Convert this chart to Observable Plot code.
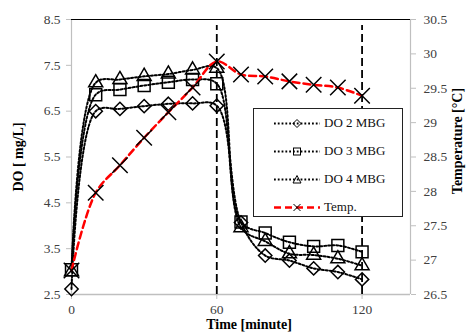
<!DOCTYPE html>
<html>
<head>
<meta charset="utf-8">
<script src="https://cdn.jsdelivr.net/npm/d3@7"></script>
<script src="https://cdn.jsdelivr.net/npm/@observablehq/plot@0.6"></script>
<style>
  html, body { margin: 0; padding: 0; background: #fff; }
  #wrap { position: relative; width: 468px; height: 332px; font-family: "Liberation Serif", serif; }
  #wrap svg { display: block; }
  #wrap svg text { font-family: "Liberation Serif", serif; }
  g[aria-label="y-axis label"] text { font-weight: bold; fill: #000; font-size: 14px; }
  #legend { position: absolute; left: 253px; top: 108px; width: 150px; height: 109px; border: 1px solid #222; background: #fff; box-sizing: border-box; }
  .row { position: absolute; left: 0; height: 20px; display: flex; align-items: center; font-size: 13px; color: #111; }
  .row svg { margin-left: 20px; margin-right: 2px; }
</style>
</head>
<body>
<div id="wrap"><div id="legend"></div></div>
<script>
const time = [0, 10, 20, 30, 40, 50, 60, 70, 80, 90, 100, 110, 120];
const do2 = [2.62, 6.50, 6.55, 6.61, 6.66, 6.67, 6.62, 4.07, 3.35, 3.24, 3.07, 2.99, 2.83];
const do3 = [3.04, 6.86, 6.97, 7.06, 7.13, 7.19, 7.10, 4.08, 3.84, 3.64, 3.55, 3.57, 3.43];
const do4 = [3.00, 7.12, 7.19, 7.26, 7.31, 7.40, 7.44, 3.96, 3.66, 3.39, 3.36, 3.28, 3.13];
const temp = [26.85, 27.98, 28.38, 28.78, 29.15, 29.51, 29.89, 29.70, 29.67, 29.60, 29.55, 29.51, 29.39];
const doTicks = [2.5, 3.5, 4.5, 5.5, 6.5, 7.5, 8.5];
const tempTicks = [26.5, 27, 27.5, 28, 28.5, 29, 29.5, 30, 30.5];
const timeTicks = [0, 60, 120];
const markerLines = [60, 120];
const seriesNames = ["DO 2 MBG", "DO 3 MBG", "DO 4 MBG", "Temp."];
const xTitle = "Time [minute]";
const yTitle = "DO [ mg/L]";
const y2Title = "Temperature [°C]";

// map temperature onto the DO scale (26.5..30.5 -> 2.5..8.5)
const toDO = t => 2.5 + (t - 26.5) * 1.5;
const fromDO = d => 26.5 + (d - 2.5) / 1.5;

const mk = vals => time.map((t, i) => ({t, v: vals[i]}));
const d2 = mk(do2), d3s = mk(do3), d4 = mk(do4), tp = mk(temp.map(toDO));

const dotted = {x: "t", y: "v", curve: "catmull-rom", stroke: "#000", strokeWidth: 2, strokeDasharray: "2,2"};
const gray = "#bfbfbf";
const titleStyle = {fill: "#000", fontWeight: "bold", fontSize: 14, fontFamily: "Liberation Serif, serif", textAnchor: "middle", lineAnchor: "middle"};

const chart = Plot.plot({
  width: 468, height: 332,
  marginLeft: 71, marginRight: 58, marginTop: 19, marginBottom: 38,
  style: {fontFamily: "Liberation Serif, serif", fontSize: "13.5px", color: "#404040", background: "#fff"},
  x: {domain: [0, 140]},
  y: {domain: [2.5, 8.5]},
  marks: [
    Plot.ruleX([0], {stroke: gray, strokeWidth: 1.2}),
    Plot.ruleX([140], {stroke: gray, strokeWidth: 1.2}),
    Plot.ruleY([2.5], {stroke: gray, strokeWidth: 1.5}),
    Plot.ruleY([8.5], {stroke: "#000", strokeWidth: 1}),
    Plot.ruleX(markerLines, {stroke: "#000", strokeWidth: 1.8, strokeDasharray: "8,4", y1: 2.5, y2: 8.5, insetBottom: -6}),
    Plot.axisY({anchor: "left", ticks: doTicks, tickFormat: d => d.toFixed(1), tickSize: 5, tickPadding: 6, stroke: gray,
      label: yTitle, labelAnchor: "center", labelOffset: 58, labelArrow: "none"}),
    Plot.axisY({anchor: "right", ticks: tempTicks.map(toDO), tickFormat: d => String(+fromDO(d).toFixed(1)), tickSize: 5, tickPadding: 8, stroke: gray,
      label: null}),
    Plot.axisX({ticks: timeTicks, tickSize: 5, tickPadding: 5, stroke: gray, label: null}),
    Plot.text([xTitle], {frameAnchor: "bottom", dx: 8, dy: 30, ...titleStyle}),
    Plot.text([y2Title], {frameAnchor: "right", dx: 47, dy: -16, rotate: -90, ...titleStyle}),
    Plot.line(d2, dotted),
    Plot.dot(d2, {x: "t", y: "v", symbol: "diamond2", r: 6, stroke: "#000", strokeWidth: 1.5, fill: "none"}),
    Plot.line(d3s, dotted),
    Plot.dot(d3s, {x: "t", y: "v", symbol: "square2", r: 7.6, stroke: "#000", strokeWidth: 1.5, fill: "none"}),
    Plot.line(d4, dotted),
    Plot.dot(d4, {x: "t", y: "v", symbol: "triangle2", r: 6.7, stroke: "#000", strokeWidth: 1.5, fill: "none"}),
    Plot.line(tp, {x: "t", y: "v", curve: "catmull-rom", stroke: "#ff0000", strokeWidth: 2.5, strokeDasharray: "7,4"}),
    Plot.dot(tp, {x: "t", y: "v", symbol: "times", r: 7.1, stroke: "#000", strokeWidth: 1.5})
  ]
});
document.getElementById("wrap").prepend(chart);

// legend
const legend = document.getElementById("legend");
const syms = [
  '<path d="M23,1.5 L27,5.5 L23,9.5 L19,5.5 Z" fill="none" stroke="#000" stroke-width="1"/>',
  '<rect x="19.5" y="2" width="7" height="7" fill="none" stroke="#000" stroke-width="1"/>',
  '<path d="M23,1.5 L27,9 L19,9 Z" fill="none" stroke="#000" stroke-width="1"/>',
  '<path d="M19.5,2 L26.5,9 M26.5,2 L19.5,9" stroke="#000" stroke-width="1"/>'
];
const tops = [4, 32, 60, 88];
seriesNames.forEach((name, i) => {
  const isTemp = i === 3;
  const line = isTemp
    ? '<line x1="0" y1="5.5" x2="46" y2="5.5" stroke="#ff0000" stroke-width="2.5" stroke-dasharray="7,4"/>'
    : '<line x1="0" y1="5.5" x2="46" y2="5.5" stroke="#000" stroke-width="1.8" stroke-dasharray="1.8,2"/>';
  const row = document.createElement("div");
  row.className = "row";
  row.style.top = tops[i] + "px";
  row.innerHTML = '<svg width="48" height="11">' + line + syms[i] + '</svg><span>' + name + '</span>';
  legend.appendChild(row);
});
</script>
</body>
</html>
